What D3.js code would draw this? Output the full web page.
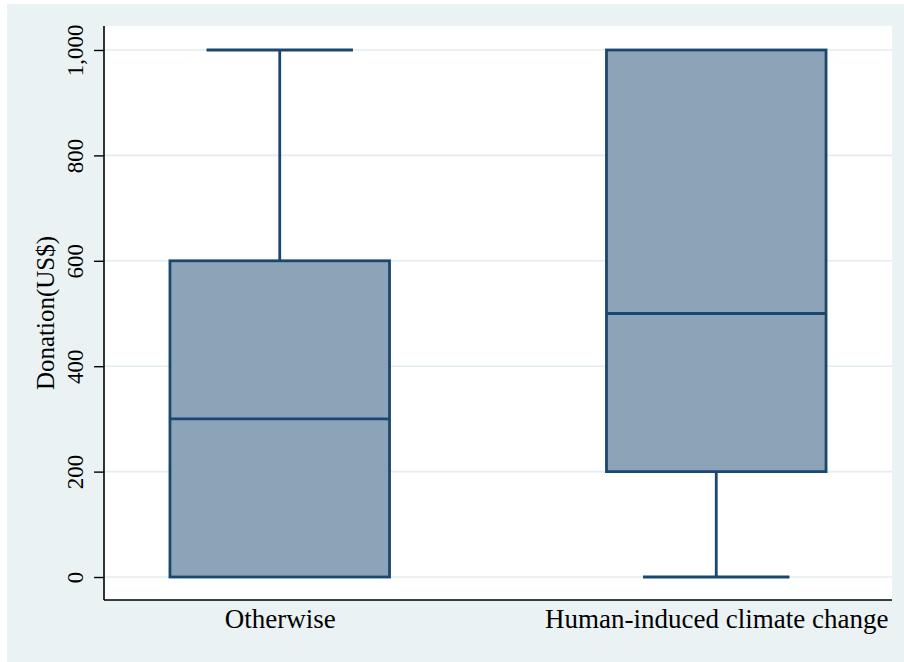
<!DOCTYPE html>
<html>
<head>
<meta charset="utf-8">
<script src="https://cdn.jsdelivr.net/npm/d3@7"></script>
<style>
  html, body { margin: 0; padding: 0; background: #ffffff; }
  svg { display: block; }
</style>
</head>
<body>
<svg id="chart" width="904" height="662"></svg>
<script>
// ---- Data ----
const categories = ["Otherwise", "Human-induced climate change"];
const whiskerLow  = [0, 0];
const quartile1   = [0, 200];
const medians     = [300, 500];
const quartile3   = [600, 1000];
const whiskerHigh = [1000, 1000];
const yTicks = [0, 200, 400, 600, 800, 1000];
const yLabel = "Donation(US$)";

// ---- Layout ----
const W = 904, H = 662;
const plot = { left: 104, right: 892, top: 26, bottom: 600 };
const svg = d3.select("#chart");
const font = "'Liberation Serif', 'Times New Roman', serif";
const navy = "#1a476f";
const fill = "#8da3b7";

// outer background
svg.append("rect").attr("x", 7).attr("y", 4).attr("width", W - 7).attr("height", H - 4)
  .attr("fill", "#eaf2f3");
// plot region
svg.append("rect").attr("x", plot.left).attr("y", plot.top)
  .attr("width", plot.right - plot.left).attr("height", plot.bottom - plot.top)
  .attr("fill", "#ffffff");

// ---- Scales ----
const y = d3.scaleLinear().domain([-43.6, 1045.5]).range([plot.bottom, plot.top]);
const x = d3.scalePoint().domain(categories).range([plot.left, plot.right]).padding(0.4026);
const step = x.step();
const boxW = step * 0.503;
const capW = boxW * 0.667;

// gridlines
svg.append("g").selectAll("line").data(yTicks).join("line")
  .attr("x1", plot.left).attr("x2", plot.right)
  .attr("y1", d => y(d)).attr("y2", d => y(d))
  .attr("stroke", "#e3ecee").attr("stroke-width", 1.6);

// Y axis
const yAxis = d3.axisLeft(y).tickValues(yTicks).tickSize(10).tickPadding(0)
  .tickFormat(d3.format(","));
const gy = svg.append("g").attr("transform", `translate(${plot.left},0)`).call(yAxis);
gy.select(".domain").remove();
gy.selectAll(".tick line").attr("stroke", "#000").attr("stroke-width", 1.4);
gy.selectAll(".tick text")
  .attr("font-family", font).attr("font-size", 23).attr("fill", "#000")
  .attr("transform", "rotate(-90)")
  .attr("x", 0).attr("y", -21).attr("dy", 0)
  .attr("text-anchor", "middle");
gy.selectAll(".tick").each(function(d) {
  d3.select(this).select("text")
    .attr("transform", null)
    .attr("x", null).attr("y", null)
    .attr("transform", `translate(-21,0) rotate(-90)`);
});
svg.append("line").attr("x1", plot.left).attr("x2", plot.left)
  .attr("y1", plot.top).attr("y2", plot.bottom)
  .attr("stroke", "#000").attr("stroke-width", 1.6);

// X axis
const xAxis = d3.axisBottom(x).tickSize(0).tickPadding(0);
const gx = svg.append("g").attr("transform", `translate(0,${plot.bottom})`).call(xAxis);
gx.select(".domain").remove();
gx.selectAll(".tick text")
  .attr("font-family", font).attr("font-size", 27).attr("fill", "#000")
  .attr("y", 28).attr("dy", 0);
svg.append("line").attr("x1", plot.left).attr("x2", plot.right)
  .attr("y1", plot.bottom).attr("y2", plot.bottom)
  .attr("stroke", "#000").attr("stroke-width", 1.6);

// Y label
svg.append("text")
  .attr("transform", `translate(54,${(plot.top + plot.bottom) / 2}) rotate(-90)`)
  .attr("text-anchor", "middle")
  .attr("font-family", font).attr("font-size", 25).attr("fill", "#000")
  .text(yLabel);

// ---- Boxes ----
const rows = categories.map((c, i) => ({
  c, lo: whiskerLow[i], q1: quartile1[i], med: medians[i], q3: quartile3[i], hi: whiskerHigh[i]
}));
const g = svg.append("g");
rows.forEach(r => {
  const cx = x(r.c);
  const sw = 2.8;
  // upper whisker
  if (r.hi > r.q3) {
    g.append("line").attr("x1", cx).attr("x2", cx).attr("y1", y(r.q3)).attr("y2", y(r.hi))
      .attr("stroke", navy).attr("stroke-width", sw);
    g.append("line").attr("x1", cx - capW / 2).attr("x2", cx + capW / 2)
      .attr("y1", y(r.hi)).attr("y2", y(r.hi))
      .attr("stroke", navy).attr("stroke-width", sw);
  }
  // lower whisker
  if (r.lo < r.q1) {
    g.append("line").attr("x1", cx).attr("x2", cx).attr("y1", y(r.q1)).attr("y2", y(r.lo))
      .attr("stroke", navy).attr("stroke-width", sw);
    g.append("line").attr("x1", cx - capW / 2).attr("x2", cx + capW / 2)
      .attr("y1", y(r.lo)).attr("y2", y(r.lo))
      .attr("stroke", navy).attr("stroke-width", sw);
  }
  // box
  g.append("rect").attr("x", cx - boxW / 2).attr("width", boxW)
    .attr("y", y(r.q3)).attr("height", y(r.q1) - y(r.q3))
    .attr("fill", fill).attr("stroke", navy).attr("stroke-width", sw);
  // median
  g.append("line").attr("x1", cx - boxW / 2).attr("x2", cx + boxW / 2)
    .attr("y1", y(r.med)).attr("y2", y(r.med))
    .attr("stroke", navy).attr("stroke-width", sw);
});
</script>
</body>
</html>
